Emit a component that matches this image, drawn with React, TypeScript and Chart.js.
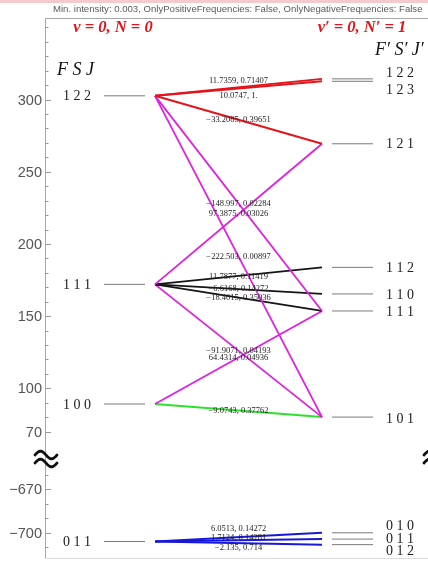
import { useEffect, useRef } from "react";
import { Chart, registerables } from "chart.js";
Chart.register(...registerables);

// ---- data ----
const lowerLabels = ["1 2 2", "1 1 1", "1 0 0", "0 1 1"];
const lowerEnergies = [302.6, 172.0, 89.17, -706.1];
const upperLabels = ["1 2 2", "1 2 3", "1 2 1", "1 1 2", "1 1 0", "1 1 1", "1 0 1", "0 1 0", "0 1 1", "0 1 2"];
const upperEnergies = [314.34, 312.67, 269.39, 183.79, 165.38, 153.6, 80.1, -700.05, -704.39, -708.24];
const transFrom = [0, 0, 0, 0, 1, 0, 1, 1, 1, 1, 2, 2, 3, 3, 3];
const transTo = [0, 1, 2, 5, 2, 6, 3, 4, 5, 6, 5, 6, 7, 8, 9];
const transFreq = ["11.7359", "10.0747", "\u221233.2085", "\u2212148.997", "97.3875", "\u2212222.503", "11.7877", "\u22126.6168", "\u221218.4015", "\u221291.9071", "64.4314", "\u22129.0743", "6.0513", "1.7124", "\u22122.135"];
const transIntensity = ["0.71407", "1.", "0.39651", "0.02284", "0.03026", "0.00897", "0.11419", "0.14272", "0.35036", "0.04193", "0.04936", "0.37762", "0.14272", "0.14281", "0.714"];
const transGroup = ["red", "red", "red", "magenta", "magenta", "magenta", "black", "black", "black", "magenta", "magenta", "green", "blue", "blue", "blue"];
const upperTicks = [300, 250, 200, 150, 100, 70];
const upperMinorTicks = [80, 90, 110, 120, 130, 140, 160, 170, 180, 190, 210, 220, 230, 240, 260, 270, 280, 290, 310, 320, 330, 340, 350];
const lowerTicks = [-670, -700];
const lowerMinorTicks = [-660, -680, -690, -710];
const titleText = "Min. intensity: 0.003, OnlyPositiveFrequencies: False, OnlyNegativeFrequencies: False";

// ---- layout / style ----
const BREAK_SHIFT = 700; // lower block shifted up by this on the display axis
const disp = (e: number) => (e < -100 ? e + BREAK_SHIFT : e);
const COLORS: Record<string, string> = {
  red: "#e3141b",
  magenta: "#e020e0",
  black: "#151515",
  green: "#2ee02e",
  blue: "#1818d8",
};
const WIDTHS: Record<string, number> = { red: 2, magenta: 1.8, black: 1.8, green: 2, blue: 2 };
const LEFT_LINE = [59, 100];
const RIGHT_LINE = [287, 328];
const TRANS_X = [110, 277];
const transLabelOffset = [-7, 7.5, 0, 0, 0, 0, 1, 0, 0, 0, 0, 0, -8, -3, 5];
const upperLabelOffset = [-6.5, 8, 0, 0, 0, 0, 1, -7, -1, 6];
const SERIF = "'Liberation Serif', 'DejaVu Serif', serif";
const SANS = "'Liberation Sans', Arial, sans-serif";

function drawTilde(ctx: CanvasRenderingContext2D, cx: number, cy: number) {
  ctx.beginPath();
  for (let i = 0; i <= 40; i++) {
    const t = i / 40;
    const x = cx - 11 + 22 * t;
    const y = cy - 3.8 * Math.sin(2 * Math.PI * t);
    if (i === 0) ctx.moveTo(x, y);
    else ctx.lineTo(x, y);
  }
  ctx.stroke();
}

const overlay = {
  id: "overlay",
  beforeDraw(chart: any) {
    const ctx: CanvasRenderingContext2D = chart.ctx;
    const { left, top, right, bottom } = chart.chartArea;
    const ys = chart.scales.y;
    ctx.save();
    ctx.fillStyle = "#fff";
    ctx.fillRect(0, 0, chart.width, chart.height);
    // pink band
    ctx.fillStyle = "#f6c9cf";
    ctx.fillRect(0, 0, chart.width, 3);
    // title (fit width)
    ctx.fillStyle = "#5a5a5a";
    let fs = 10;
    ctx.font = `${fs}px ${SANS}`;
    const w = ctx.measureText(titleText).width;
    fs = (fs * 370) / w;
    ctx.font = `${fs}px ${SANS}`;
    ctx.textBaseline = "middle";
    ctx.textAlign = "left";
    ctx.fillText(titleText, 53, 9);
    // frame
    ctx.strokeStyle = "#a8a8a8";
    ctx.lineWidth = 1;
    ctx.beginPath();
    ctx.moveTo(left + 0.5, bottom);
    ctx.lineTo(left + 0.5, top + 0.5);
    ctx.lineTo(right, top + 0.5);
    ctx.stroke();
    ctx.strokeStyle = "#dcdcdc";
    ctx.beginPath();
    ctx.moveTo(left, bottom + 0.5);
    ctx.lineTo(right, bottom + 0.5);
    ctx.stroke();
    // ticks
    ctx.strokeStyle = "#9a9a9a";
    const major = [...upperTicks, ...lowerTicks];
    const minor = [...upperMinorTicks, ...lowerMinorTicks];
    major.forEach((v) => {
      const y = Math.round(ys.getPixelForValue(disp(v))) + 0.5;
      ctx.beginPath();
      ctx.moveTo(left, y);
      ctx.lineTo(left + 6, y);
      ctx.stroke();
    });
    minor.forEach((v) => {
      const y = Math.round(ys.getPixelForValue(disp(v))) + 0.5;
      ctx.beginPath();
      ctx.moveTo(left, y);
      ctx.lineTo(left + 3.5, y);
      ctx.stroke();
    });
    ctx.fillStyle = "#555";
    ctx.font = `14.5px ${SANS}`;
    ctx.textAlign = "right";
    ctx.textBaseline = "middle";
    major.forEach((v) => {
      const y = ys.getPixelForValue(disp(v));
      const s = v < 0 ? "\u2212" + Math.abs(v) : String(v);
      ctx.fillText(s, left - 3, y + 1);
    });
    ctx.restore();
  },
  afterDatasetsDraw(chart: any) {
    const ctx: CanvasRenderingContext2D = chart.ctx;
    const ys = chart.scales.y;
    const xs = chart.scales.x;
    ctx.save();
    // break symbols
    ctx.strokeStyle = "#111";
    ctx.lineWidth = 2.8;
    ctx.lineCap = "round";
    drawTilde(ctx, 46, 455);
    drawTilde(ctx, 46, 463);
    drawTilde(ctx, 435, 455);
    drawTilde(ctx, 435, 463);
    // headers
    ctx.fillStyle = "#e3141b";
    ctx.font = `bold italic 16.5px ${SERIF}`;
    ctx.textAlign = "center";
    ctx.textBaseline = "middle";
    ctx.fillText("v = 0, N = 0", 113, 28);
    ctx.fillText("v\u2032 = 0, N\u2032 = 1", 362, 28);
    ctx.fillStyle = "#111";
    ctx.font = `italic 18px ${SERIF}`;
    ctx.textAlign = "left";
    ctx.fillText("F S J", 57, 70);
    ctx.fillText("F\u2032 S\u2032 J\u2032", 375, 50);
    // level labels
    ctx.font = `14px ${SERIF}`;
    ctx.fillStyle = "#222";
    lowerLabels.forEach((lab, i) => {
      ctx.fillText(lab, 63, ys.getPixelForValue(disp(lowerEnergies[i])) + 1);
    });
    upperLabels.forEach((lab, i) => {
      ctx.fillText(lab, 386, ys.getPixelForValue(disp(upperEnergies[i])) + upperLabelOffset[i] + 1);
    });
    // transition labels
    ctx.font = `8.5px ${SERIF}`;
    ctx.fillStyle = "#222";
    ctx.textAlign = "center";
    const cx = xs.getPixelForValue((TRANS_X[0] + TRANS_X[1]) / 2);
    transFreq.forEach((f, i) => {
      const y1 = ys.getPixelForValue(disp(lowerEnergies[transFrom[i]]));
      const y2 = ys.getPixelForValue(disp(upperEnergies[transTo[i]]));
      ctx.fillText(`${f}, ${transIntensity[i]}`, cx, (y1 + y2) / 2 + transLabelOffset[i]);
    });
    ctx.restore();
  },
};

export default function App() {
  const ref = useRef<HTMLCanvasElement | null>(null);
  useEffect(() => {
    document.body.style.margin = "0";
    if (!ref.current) return;
    const datasets: any[] = [];
    lowerEnergies.forEach((e) => {
      datasets.push({
        data: [{ x: LEFT_LINE[0], y: disp(e) }, { x: LEFT_LINE[1], y: disp(e) }],
        borderColor: "#7a7a7a",
        borderWidth: 1,
      });
    });
    upperEnergies.forEach((e) => {
      datasets.push({
        data: [{ x: RIGHT_LINE[0], y: disp(e) }, { x: RIGHT_LINE[1], y: disp(e) }],
        borderColor: "#7a7a7a",
        borderWidth: 1,
      });
    });
    transFrom.forEach((f, i) => {
      const g = transGroup[i];
      datasets.push({
        data: [
          { x: TRANS_X[0], y: disp(lowerEnergies[f]) },
          { x: TRANS_X[1], y: disp(upperEnergies[transTo[i]]) },
        ],
        borderColor: COLORS[g],
        borderWidth: WIDTHS[g],
      });
    });
    datasets.forEach((d) => {
      d.showLine = true;
      d.pointRadius = 0;
      d.pointHoverRadius = 0;
      d.fill = false;
      d.tension = 0;
    });
    const chart = new Chart(ref.current, {
      type: "scatter",
      data: { datasets },
      options: {
        animation: false,
        responsive: false,
        devicePixelRatio: 1,
        layout: { padding: { left: 45, right: 0, top: 18, bottom: 3 } },
        plugins: { legend: { display: false }, tooltip: { enabled: false }, title: { display: false } },
        events: [],
        scales: {
          x: { type: "linear", min: 0, max: 383, display: false },
          y: { type: "linear", min: -17.5, max: 356.5, display: false },
        },
      },
      plugins: [overlay],
    });
    return () => chart.destroy();
  }, []);
  return <canvas ref={ref} width={428} height={561} style={{ display: "block" }} />;
}
